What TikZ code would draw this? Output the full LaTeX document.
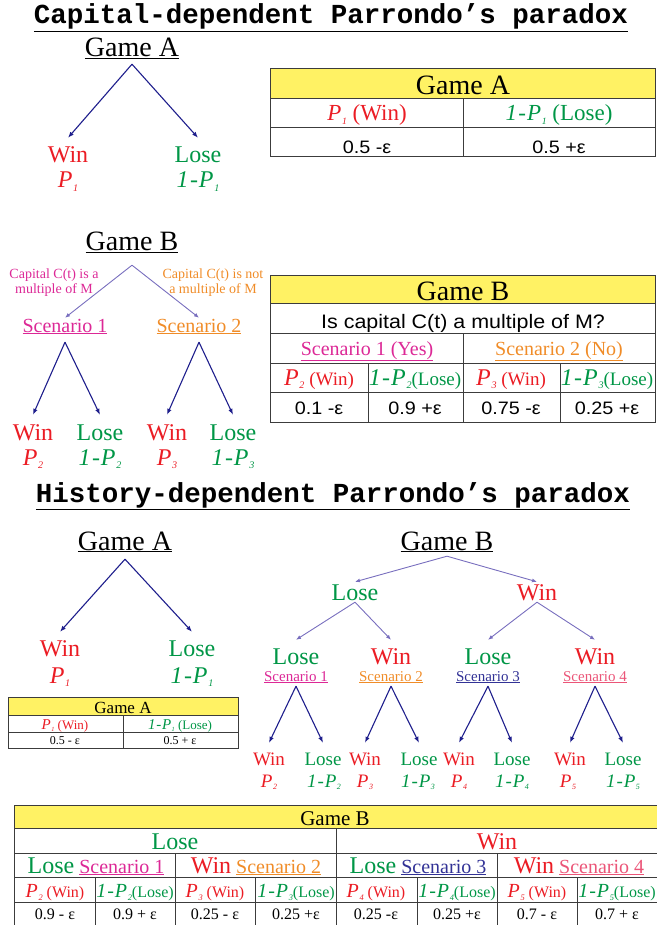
\documentclass[tikz,border=0pt]{standalone}
\usepackage{fontspec}
\usepackage{graphicx}
\setmainfont{Liberation Serif}
\newfontfamily\sansf[FakeStretch=1.1]{Liberation Sans}
\newfontfamily\monof{Liberation Mono}
\usetikzlibrary{arrows.meta}

\definecolor{winred}{RGB}{235,28,36}
\definecolor{losegreen}{RGB}{0,150,70}
\definecolor{scA}{RGB}{220,40,150}
\definecolor{scB}{RGB}{240,140,40}
\definecolor{scC}{RGB}{50,50,150}
\definecolor{scD}{RGB}{235,85,120}
\definecolor{hdr}{RGB}{255,242,100}
\definecolor{darkarrow}{RGB}{30,30,140}
\definecolor{lightarrow}{RGB}{120,110,190}
\definecolor{rulegray}{RGB}{60,60,60}

\newcommand{\setsz}[1]{\fontsize{#1}{#1}\selectfont}
\newcommand{\pr}[1]{\textit{P}\kern0.03em\raisebox{-0.15em}{\scalebox{0.42}{\itshape #1}}}
\newcommand{\npr}[1]{\textit{1\kern0.06em-\kern0.04em P}\kern0.03em\raisebox{-0.15em}{\scalebox{0.42}{\itshape #1}}}

\begin{document}
\begin{tikzpicture}[x=1pt,y=-1pt,
  every node/.style={anchor=base,inner sep=0pt},
  game/.style={font=\setsz{28}},
  win/.style={text=winred,font=\setsz{24}},
  lose/.style={text=losegreen,font=\setsz{24}},
  prob/.style={font=\itshape\setsz{24}},
  darr/.style={draw=darkarrow,line width=1.1pt,-{Latex[length=6pt,width=4.5pt]}},
  larr/.style={draw=lightarrow,line width=0.9pt,-{Latex[length=5pt,width=4pt]}},
  tabline/.style={draw=rulegray,line width=1pt}]
\useasboundingbox (0,0) rectangle (656,925);

\node[font=\monof\bfseries\setsz{27.5}] (cap) at (331,24) {\underline{Capital-dependent Parrondo’s paradox}};

\node[game,text depth=7pt] (gA) at (132,57) {\underline{Game A}};
\node[win,text height=25pt] (gAw) at (68,163) {Win};
\node[lose,text height=25pt] (gAl) at (198,163) {Lose};
\node[prob,text=winred] (gApw) at (68,188) {\pr{1}};
\node[prob,text=losegreen] (gApl) at (198,188) {\npr{1}};
\draw[darr] (gA.south) -- (gAw.north);
\draw[darr] (gA.south) -- (gAl.north);

\fill[hdr] (270,69) rectangle (655,99);
\draw[tabline] (270,69) rectangle (655,157);
\draw[tabline] (270,99) -- (655,99);
\draw[tabline] (270,128) -- (655,128);
\draw[tabline] (463,99) -- (463,157);
\node[game] (tAh) at (463,95) {Game A};
\node[text=winred,font=\setsz{23}] (tAw) at (367,121) {\pr{1} (Win)};
\node[text=losegreen,font=\setsz{23}] (tAl) at (559,121) {\npr{1} (Lose)};
\node[font=\sansf\setsz{18}] (tAv1) at (367,154) {0.5 -ε};
\node[font=\sansf\setsz{18}] (tAv2) at (559,154) {0.5 +ε};

\node[game,text depth=14pt] (gB) at (132,251) {\underline{Game B}};
\node[anchor=center,align=center,text=scA,font=\fontsize{14}{15}\selectfont] (gBc1) at (54,283) {Capital C(t) is a\\multiple of M};
\node[anchor=center,align=center,text=scB,font=\fontsize{14}{15}\selectfont] (gBc2) at (213,283) {Capital C(t) is not\\a multiple of M};
\node[text=scA,font=\setsz{20},text height=14pt,text depth=10pt] (gBs1) at (65,332) {\underline{Scenario 1}};
\node[text=scB,font=\setsz{20},text height=14pt,text depth=10pt] (gBs2) at (199,332) {\underline{Scenario 2}};
\draw[larr] (gB.south) -- (gBs1.north);
\draw[larr] (gB.south) -- (gBs2.north);
\node[win,text height=25pt] (gBw2) at (33,440) {Win};
\node[lose,text height=25pt] (gBl2) at (100,440) {Lose};
\node[win,text height=25pt] (gBw3) at (167,440) {Win};
\node[lose,text height=25pt] (gBl3) at (233,440) {Lose};
\node[prob,text=winred] (gBpw2) at (33,465) {\pr{2}};
\node[prob,text=losegreen] (gBpl2) at (100,465) {\npr{2}};
\node[prob,text=winred] (gBpw3) at (167,465) {\pr{3}};
\node[prob,text=losegreen] (gBpl3) at (233,465) {\npr{3}};
\draw[darr] (gBs1.south) -- (gBw2.north);
\draw[darr] (gBs1.south) -- (gBl2.north);
\draw[darr] (gBs2.south) -- (gBw3.north);
\draw[darr] (gBs2.south) -- (gBl3.north);

\fill[hdr] (270,275) rectangle (655,303);
\draw[tabline] (270,275) rectangle (655,422);
\draw[tabline] (270,303) -- (655,303);
\draw[tabline] (270,333) -- (655,333);
\draw[tabline] (270,363) -- (655,363);
\draw[tabline] (270,392) -- (655,392);
\draw[tabline] (463,333) -- (463,422);
\draw[tabline] (368,363) -- (368,422);
\draw[tabline] (560,363) -- (560,422);
\node[game] (tBh) at (463,300) {Game B};
\node[font=\sansf\setsz{19.5}] (tBq) at (463,328) {Is capital C(t) a multiple of M?};
\node[text=scA,font=\setsz{20}] (tBs1) at (367,355) {\underline{Scenario 1 (Yes)}};
\node[text=scB,font=\setsz{20}] (tBs2) at (559,355) {\underline{Scenario 2 (No)}};
\node[text=winred,font=\setsz{19}] (tBw2) at (319,385) {{\setsz{24}\pr{2}} (Win)};
\node[text=losegreen,font=\setsz{19}] (tBl2) at (415,385) {{\setsz{24}\npr{2}}(Lose)};
\node[text=winred,font=\setsz{19}] (tBw3) at (511,385) {{\setsz{24}\pr{3}} (Win)};
\node[text=losegreen,font=\setsz{19}] (tBl3) at (607,385) {{\setsz{24}\npr{3}}(Lose)};
\node[font=\sansf\setsz{18}] (tBv1) at (319,414) {0.1 -ε};
\node[font=\sansf\setsz{18}] (tBv2) at (415,414) {0.9 +ε};
\node[font=\sansf\setsz{18}] (tBv3) at (511,414) {0.75 -ε};
\node[font=\sansf\setsz{18}] (tBv4) at (607,414) {0.25 +ε};

\node[font=\monof\bfseries\setsz{27.5}] (hist) at (333,502) {\underline{History-dependent Parrondo’s paradox}};

\node[game,text depth=9pt] (hA) at (125,550) {\underline{Game A}};
\node[win,text height=24pt] (hAw) at (60,656) {Win};
\node[lose,text height=24pt] (hAl) at (192,656) {Lose};
\node[prob,text=winred] (hApw) at (60,683) {\pr{1}};
\node[prob,text=losegreen] (hApl) at (192,683) {\npr{1}};
\draw[darr] (hA.south) -- (hAw.north);
\draw[darr] (hA.south) -- (hAl.north);

\fill[hdr] (8,697) rectangle (238,715);
\draw[tabline] (8,697) rectangle (238,748);
\draw[tabline] (8,715) -- (238,715);
\draw[tabline] (8,732) -- (238,732);
\draw[tabline] (123,715) -- (123,748);
\node[font=\setsz{17}] (sAh) at (123,713) {Game A};
\node[text=winred,font=\setsz{13}] (sAw) at (65,729) {{\setsz{15}\pr{1}} (Win)};
\node[text=losegreen,font=\setsz{13}] (sAl) at (180,729) {{\setsz{15}\npr{1}} (Lose)};
\node[font=\setsz{12}] (sAv1) at (65,744) {0.5 - ε};
\node[font=\setsz{12}] (sAv2) at (180,744) {0.5 + ε};

\node[game,text depth=6pt] (hB) at (447,550) {\underline{Game B}};
\node[lose,text height=18pt,text depth=2pt] (hL) at (355,600) {Lose};
\node[win,text height=18pt,text depth=2pt] (hW) at (537,600) {Win};
\draw[larr] (hB.south) -- (hL.north);
\draw[larr] (hB.south) -- (hW.north);
\node[lose,text height=24pt] (hLL) at (296,664) {Lose};
\node[win,text height=24pt] (hLW) at (391,664) {Win};
\node[lose,text height=24pt] (hWL) at (488,664) {Lose};
\node[win,text height=24pt] (hWW) at (595,664) {Win};
\draw[larr] (hL.south) -- (hLL.north);
\draw[larr] (hL.south) -- (hLW.north);
\draw[larr] (hW.south) -- (hWL.north);
\draw[larr] (hW.south) -- (hWW.north);
\node[text=scA,font=\setsz{15},text depth=5pt] (hs1) at (296,681) {\underline{Scenario 1}};
\node[text=scB,font=\setsz{15},text depth=5pt] (hs2) at (391,681) {\underline{Scenario 2}};
\node[text=scC,font=\setsz{15},text depth=5pt] (hs3) at (488,681) {\underline{Scenario 3}};
\node[text=scD,font=\setsz{15},text depth=5pt] (hs4) at (595,681) {\underline{Scenario 4}};
\node[win,font=\setsz{19},text height=22pt] (hw2) at (269,765) {Win};
\node[lose,font=\setsz{19},text height=22pt] (hl2) at (323,765) {Lose};
\node[win,font=\setsz{19},text height=22pt] (hw3) at (365,765) {Win};
\node[lose,font=\setsz{19},text height=22pt] (hl3) at (419,765) {Lose};
\node[win,font=\setsz{19},text height=22pt] (hw4) at (459,765) {Win};
\node[lose,font=\setsz{19},text height=22pt] (hl4) at (512,765) {Lose};
\node[win,font=\setsz{19},text height=22pt] (hw5) at (570,765) {Win};
\node[lose,font=\setsz{19},text height=22pt] (hl5) at (623,765) {Lose};
\draw[darr] (hs1.south) -- (hw2.north);
\draw[darr] (hs1.south) -- (hl2.north);
\draw[darr] (hs2.south) -- (hw3.north);
\draw[darr] (hs2.south) -- (hl3.north);
\draw[darr] (hs3.south) -- (hw4.north);
\draw[darr] (hs3.south) -- (hl4.north);
\draw[darr] (hs4.south) -- (hw5.north);
\draw[darr] (hs4.south) -- (hl5.north);
\node[prob,font=\itshape\setsz{19},text=winred] (hpw2) at (269,787) {\pr{2}};
\node[prob,font=\itshape\setsz{19},text=losegreen] (hpl2) at (324,787) {\npr{2}};
\node[prob,font=\itshape\setsz{19},text=winred] (hpw3) at (365,787) {\pr{3}};
\node[prob,font=\itshape\setsz{19},text=losegreen] (hpl3) at (418,787) {\npr{3}};
\node[prob,font=\itshape\setsz{19},text=winred] (hpw4) at (459,787) {\pr{4}};
\node[prob,font=\itshape\setsz{19},text=losegreen] (hpl4) at (512,787) {\npr{4}};
\node[prob,font=\itshape\setsz{19},text=winred] (hpw5) at (568,787) {\pr{5}};
\node[prob,font=\itshape\setsz{19},text=losegreen] (hpl5) at (623,787) {\npr{5}};

\fill[hdr] (14,805) rectangle (657,828);
\draw[tabline] (14,805) rectangle (657,927);
\draw[tabline] (14,828) -- (657,828);
\draw[tabline] (14,853) -- (657,853);
\draw[tabline] (14,877) -- (657,877);
\draw[tabline] (14,902) -- (657,902);
\draw[tabline] (336,828) -- (336,927);
\draw[tabline] (175,853) -- (175,927);
\draw[tabline] (497,853) -- (497,927);
\draw[tabline] (95,877) -- (95,927);
\draw[tabline] (255,877) -- (255,927);
\draw[tabline] (417,877) -- (417,927);
\draw[tabline] (577,877) -- (577,927);
\node[font=\setsz{21}] (bBh) at (335,825) {Game B};
\node[lose] (bL) at (175,849) {Lose};
\node[win] (bW) at (497,849) {Win};
\node[font=\setsz{20}] (bs1) at (96,873) {{\color{losegreen}\setsz{24}Lose} {\color{scA}\underline{Scenario 1}}};
\node[font=\setsz{20}] (bs2) at (256,873) {{\color{winred}\setsz{24}Win} {\color{scB}\underline{Scenario 2}}};
\node[font=\setsz{20}] (bs3) at (418,873) {{\color{losegreen}\setsz{24}Lose} {\color{scC}\underline{Scenario 3}}};
\node[font=\setsz{20}] (bs4) at (579,873) {{\color{winred}\setsz{24}Win} {\color{scD}\underline{Scenario 4}}};
\node[text=winred,font=\setsz{16}] (bw2) at (55,897) {{\setsz{20}\pr{2}} (Win)};
\node[text=losegreen,font=\setsz{16}] (bl2) at (135,897) {{\setsz{20}\npr{2}}(Lose)};
\node[text=winred,font=\setsz{16}] (bw3) at (215,897) {{\setsz{20}\pr{3}} (Win)};
\node[text=losegreen,font=\setsz{16}] (bl3) at (296,897) {{\setsz{20}\npr{3}}(Lose)};
\node[text=winred,font=\setsz{16}] (bw4) at (376,897) {{\setsz{20}\pr{4}} (Win)};
\node[text=losegreen,font=\setsz{16}] (bl4) at (457,897) {{\setsz{20}\npr{4}}(Lose)};
\node[text=winred,font=\setsz{16}] (bw5) at (537,897) {{\setsz{20}\pr{5}} (Win)};
\node[text=losegreen,font=\setsz{16}] (bl5) at (617,897) {{\setsz{20}\npr{5}}(Lose)};
\node[font=\setsz{16}] (bv1) at (55,919) {0.9 - ε};
\node[font=\setsz{16}] (bv2) at (135,919) {0.9 + ε};
\node[font=\setsz{16}] (bv3) at (215,919) {0.25 - ε};
\node[font=\setsz{16}] (bv4) at (296,919) {0.25 +ε};
\node[font=\setsz{16}] (bv5) at (376,919) {0.25 -ε};
\node[font=\setsz{16}] (bv6) at (457,919) {0.25 +ε};
\node[font=\setsz{16}] (bv7) at (537,919) {0.7 - ε};
\node[font=\setsz{16}] (bv8) at (617,919) {0.7 + ε};
\end{tikzpicture}
\end{document}
